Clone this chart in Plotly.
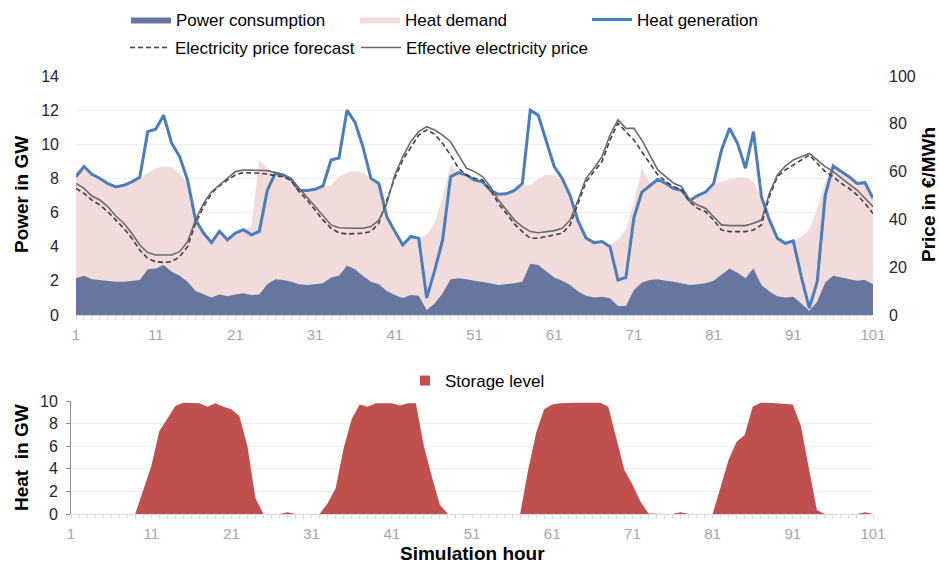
import plotly.graph_objects as go

hours = list(range(1, 102))

power_consumption = [
    2.15, 2.3, 2.1, 2.05, 2.0, 1.95, 1.95, 2.0, 2.05, 2.68,
    2.73, 2.93, 2.54, 2.3, 1.95, 1.4, 1.2, 1.03, 1.2, 1.1,
    1.2, 1.27, 1.17, 1.2, 1.8, 2.1, 2.05, 1.95, 1.8, 1.76,
    1.8, 1.86, 2.2, 2.3, 2.9, 2.68, 2.3, 1.95, 1.8, 1.4,
    1.17, 1.0, 1.17, 1.13, 0.3, 0.68, 1.27, 2.1, 2.15, 2.1,
    2.0, 1.95, 1.86, 1.76, 1.8, 1.86, 1.95, 3.0, 2.93, 2.54,
    2.2, 2.0, 1.76, 1.37, 1.13, 1.03, 1.07, 0.98, 0.53, 0.53,
    1.46, 1.9, 2.05, 2.1, 2.0, 1.95, 1.86, 1.76, 1.8, 1.86,
    2.0, 2.38, 2.73, 2.48, 2.15, 2.73, 1.76, 1.37, 1.1, 1.03,
    1.07, 0.68, 0.25, 0.78, 1.9, 2.3, 2.2, 2.1, 2.0, 2.05,
    1.8,
]

heat_demand = [
    8.5, 8.6, 8.15, 7.9, 7.6, 7.4, 7.5, 7.7, 7.95, 8.34,
    8.6, 8.7, 8.65, 8.3, 7.7, 5.5, 4.75, 4.2, 4.85, 4.35,
    4.75, 4.95, 5.2, 9.1, 8.6, 8.3, 8.2, 7.95, 7.3, 7.3,
    7.36, 7.5, 7.6, 8.1, 8.34, 8.44, 8.34, 8.0, 7.7, 5.76,
    4.9, 4.1, 4.55, 4.5, 4.7, 5.4, 6.9, 8.8, 8.34, 8.2,
    7.9, 7.8, 7.3, 7.07, 7.1, 7.3, 7.6, 7.6, 8.0, 8.2,
    8.2, 7.9, 7.0, 5.5, 4.5, 4.24, 4.3, 4.1, 4.4, 5.0,
    6.6, 8.6, 7.75, 7.95, 7.7, 7.4, 7.3, 6.7, 7.0, 7.2,
    7.7, 7.8, 7.95, 8.07, 8.07, 7.8, 6.93, 5.57, 4.5, 4.2,
    4.34, 4.6, 5.0, 6.2, 7.8, 8.73, 8.4, 8.1, 7.7, 7.75,
    6.84,
]

heat_generation = [
    8.1, 8.7, 8.24, 8.0, 7.7, 7.5, 7.6, 7.8, 8.07, 10.74,
    10.88, 11.7, 10.06, 9.28, 7.9, 5.57, 4.8, 4.24, 4.9, 4.4,
    4.8, 5.0, 4.7, 4.9, 7.3, 8.3, 8.2, 7.95, 7.3, 7.3,
    7.36, 7.56, 9.08, 9.2, 12.0, 11.3, 9.86, 8.0, 7.7, 5.76,
    4.9, 4.1, 4.6, 4.5, 1.0, 2.6, 4.4, 8.1, 8.34, 8.2,
    7.9, 7.8, 7.3, 7.07, 7.1, 7.3, 7.7, 12.0, 11.7, 10.25,
    8.7, 8.0, 7.0, 5.5, 4.5, 4.24, 4.3, 4.0, 2.05, 2.2,
    5.7, 7.2, 7.6, 7.95, 7.7, 7.4, 7.3, 6.7, 7.0, 7.2,
    7.7, 9.67, 10.94, 10.06, 8.6, 10.74, 6.93, 5.57, 4.5, 4.2,
    4.34, 2.25, 0.4, 1.95, 7.0, 8.73, 8.4, 8.1, 7.7, 7.75,
    6.84,
]

price_forecast = [
    53.0, 50.9, 48.1, 46.0, 43.2, 39.7, 36.3, 32.1, 27.2, 23.7,
    22.3, 22.0, 22.3, 24.4, 28.6, 38.4, 45.3, 50.9, 54.0, 56.5,
    58.6, 59.6, 59.6, 59.3, 59.0, 58.2, 57.9, 56.2, 51.6, 48.1,
    43.9, 39.7, 36.3, 34.4, 33.9, 33.9, 34.2, 34.9, 38.4, 48.1,
    57.2, 64.9, 70.4, 75.3, 77.4, 75.7, 71.8, 66.9, 61.4, 58.6,
    57.2, 56.5, 52.3, 46.7, 42.5, 38.1, 34.9, 32.1, 32.1, 32.8,
    33.2, 34.2, 37.7, 46.7, 55.8, 60.0, 64.2, 73.2, 80.2, 76.7,
    73.2, 68.3, 63.5, 58.6, 55.8, 53.7, 52.3, 47.4, 44.6, 43.2,
    39.7, 35.6, 34.9, 34.9, 34.9, 35.6, 37.7, 49.5, 57.9, 60.7,
    62.8, 64.9, 66.9, 63.5, 60.0, 57.9, 55.1, 53.0, 50.2, 46.7,
    42.5,
]

price_effective = [
    55.1, 53.0, 49.8, 48.1, 45.3, 41.4, 38.4, 34.2, 29.3, 26.1,
    25.1, 25.1, 25.1, 26.5, 30.7, 39.7, 46.7, 51.6, 54.4, 57.2,
    60.0, 60.7, 60.7, 60.7, 60.4, 59.6, 58.6, 56.9, 53.0, 49.5,
    45.3, 41.4, 37.7, 36.5, 36.3, 36.3, 36.3, 37.0, 39.7, 46.7,
    58.6, 66.2, 72.5, 76.7, 78.8, 77.4, 75.3, 72.5, 66.9, 61.4,
    60.0, 57.9, 53.7, 48.1, 43.9, 39.7, 37.0, 34.9, 34.4, 34.9,
    35.3, 36.3, 39.7, 48.1, 57.2, 61.4, 66.2, 75.3, 81.6, 78.1,
    78.1, 73.2, 66.9, 60.7, 57.9, 55.1, 53.7, 48.1, 46.0, 44.6,
    41.1, 37.7, 37.4, 37.4, 37.4, 38.4, 39.7, 50.9, 58.6, 62.3,
    64.9, 66.2, 67.6, 64.9, 62.1, 60.0, 57.2, 54.8, 52.3, 48.8,
    45.3,
]

storage_level = [
    0, 0, 0, 0, 0, 0, 0, 0, 0, 2.1,
    4.2, 7.3, 8.4, 9.55, 9.85, 9.85, 9.8, 9.5, 9.8, 9.5,
    9.26, 8.66, 6.0, 1.4, 0, 0, 0, 0.15, 0, 0,
    0, 0, 0.95, 2.3, 5.85, 8.4, 9.7, 9.5, 9.8, 9.8,
    9.8, 9.6, 9.8, 9.8, 6.0, 3.3, 0.8, 0, 0, 0,
    0, 0, 0, 0, 0, 0, 0, 3.9, 7.2, 9.26,
    9.7, 9.8, 9.85, 9.85, 9.85, 9.85, 9.85, 9.5, 6.6, 3.9,
    2.6, 1.1, 0.05, 0, 0, 0, 0.15, 0, 0, 0,
    0, 2.4, 4.8, 6.4, 7.0, 9.5, 9.85, 9.85, 9.8, 9.75,
    9.7, 7.8, 3.9, 0.35, 0, 0, 0, 0, 0, 0.15,
    0,
]

x_ticks = [1, 11, 21, 31, 41, 51, 61, 71, 81, 91, 101]

FONT = "Liberation Sans"
C_POWER = "#67769F"
C_HEAT_DEMAND = "#F2DCDB"
C_HEAT_GEN = "#4A7EBB"
C_STORAGE = "#C0504D"

W, H = 939, 565


def px_x(p):
    return p / W


def px_y(p):
    return 1 - p / H


fig = go.Figure()

fig.add_trace(go.Scatter(
    x=hours, y=heat_demand, name="Heat demand", mode="lines",
    fill="tozeroy", fillcolor=C_HEAT_DEMAND, line=dict(width=0, color=C_HEAT_DEMAND),
    xaxis="x", yaxis="y", legend="legend2",
))
fig.add_trace(go.Scatter(
    x=hours, y=power_consumption, name="Power consumption", mode="lines",
    fill="tozeroy", fillcolor=C_POWER, line=dict(width=0, color=C_POWER),
    xaxis="x", yaxis="y", legend="legend",
))
fig.add_trace(go.Scatter(
    x=hours, y=heat_generation, name="Heat generation", mode="lines",
    line=dict(width=3, color=C_HEAT_GEN),
    xaxis="x", yaxis="y", legend="legend3",
))
fig.add_trace(go.Scatter(
    x=hours, y=price_forecast, name="Electricity price forecast", mode="lines",
    line=dict(width=1.6, color="#3F3F3F", dash="5px,3px"),
    xaxis="x", yaxis="y2", legend="legend4",
))
fig.add_trace(go.Scatter(
    x=hours, y=price_effective, name="Effective electricity price", mode="lines",
    line=dict(width=1.6, color="#6A6A6A"),
    xaxis="x", yaxis="y2", legend="legend5",
))
fig.add_trace(go.Scatter(
    x=hours, y=storage_level, name="Storage level", mode="lines",
    fill="tozeroy", fillcolor=C_STORAGE, line=dict(width=0, color=C_STORAGE),
    xaxis="x2", yaxis="y3", showlegend=False,
))
fig.add_trace(go.Scatter(
    x=[None], y=[None], name="Storage level", mode="markers",
    marker=dict(symbol="square", size=10, color=C_STORAGE),
    xaxis="x2", yaxis="y3", legend="legend6",
))

xaxis_common = dict(
    range=[1, 101], tickvals=x_ticks, ticktext=[str(v) for v in x_ticks],
    tickfont=dict(family=FONT, size=15, color="#A6A6A6"),
    showline=True, linecolor="#D9D9D9", linewidth=1,
    ticks="outside", ticklen=4, tickcolor="#D9D9D9",
    minor=dict(dtick=1, tick0=1, ticks="outside", ticklen=4, tickcolor="#D9D9D9", showgrid=False),
    showgrid=False, zeroline=False, ticklabelstandoff=2, fixedrange=True,
)

legend_common = dict(
    orientation="h", xanchor="left", yanchor="middle",
    bgcolor="rgba(0,0,0,0)", borderwidth=0,
    font=dict(family=FONT, size=17, color="#000000"),
    tracegroupgap=0,
)

title_font = dict(family=FONT, size=19, color="#000000")

fig.update_layout(
    width=W, height=H,
    margin=dict(l=0, r=0, t=0, b=0, autoexpand=False),
    paper_bgcolor="white", plot_bgcolor="white",
    font=dict(family=FONT, color="#000000"),
    xaxis=dict(domain=[px_x(76), px_x(873)], anchor="y", **xaxis_common),
    xaxis2=dict(domain=[px_x(71), px_x(873)], anchor="y3", **xaxis_common),
    yaxis=dict(
        domain=[px_y(315), px_y(76)], anchor="x", range=[0, 14], dtick=2,
        tickfont=dict(family=FONT, size=16, color="#262626"),
        showgrid=True, gridcolor="#EEEEEE", gridwidth=1, zeroline=False,
        showline=False, ticklabelstandoff=16, fixedrange=True,
    ),
    yaxis2=dict(
        overlaying="y", side="right", anchor="x", range=[0, 100], dtick=20,
        tickfont=dict(family=FONT, size=16, color="#262626"),
        showgrid=False, zeroline=False, showline=False,
        ticklabelstandoff=15, fixedrange=True,
    ),
    yaxis3=dict(
        domain=[px_y(514), px_y(401)], anchor="x2", range=[0, 10], dtick=2,
        tickfont=dict(family=FONT, size=16, color="#262626"),
        showgrid=True, gridcolor="#EEEEEE", zeroline=False,
        showline=True, linecolor="#8C8C8C", linewidth=1,
        ticks="outside", ticklen=4, tickcolor="#8C8C8C",
        ticklabelstandoff=5, fixedrange=True,
    ),
    legend=dict(x=px_x(126), y=px_y(20), itemwidth=40, **legend_common),
    legend2=dict(x=px_x(355), y=px_y(20), itemwidth=40, **legend_common),
    legend3=dict(x=px_x(587), y=px_y(20), itemwidth=40, **legend_common),
    legend4=dict(x=px_x(125), y=px_y(48), itemwidth=40, **legend_common),
    legend5=dict(x=px_x(356), y=px_y(48), itemwidth=40, **legend_common),
    legend6=dict(x=px_x(405), y=px_y(381), itemwidth=30, **legend_common),
    showlegend=True,
    hovermode=False,
    annotations=[
        dict(text="<b>Power in GW</b>", x=px_x(21), y=px_y(195), xref="paper", yref="paper",
             xanchor="center", yanchor="middle", textangle=-90, showarrow=False, font=title_font),
        dict(text="<b>Price in €/MWh</b>", x=px_x(928), y=px_y(195), xref="paper", yref="paper",
             xanchor="center", yanchor="middle", textangle=-90, showarrow=False, font=title_font),
        dict(text="<b>Heat  in GW</b>", x=px_x(21), y=px_y(458), xref="paper", yref="paper",
             xanchor="center", yanchor="middle", textangle=-90, showarrow=False, font=title_font),
        dict(text="<b>Simulation hour</b>", x=px_x(472), y=px_y(553), xref="paper", yref="paper",
             xanchor="center", yanchor="middle", showarrow=False, font=title_font),
    ],
)

fig.write_html(
    "out.html",
    config={"displayModeBar": False, "staticPlot": True},
    post_script="document.body.style.margin='0';document.body.style.overflow='hidden';",
)
